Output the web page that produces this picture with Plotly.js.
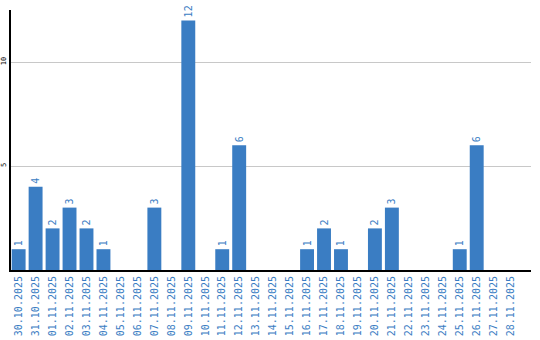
<!DOCTYPE html>
<html><head><meta charset="utf-8">
<script src="https://cdn.plot.ly/plotly-3.0.1.min.js"></script>
<style>html,body{margin:0;padding:0;background:#fff}#c{width:540px;height:340px}</style>
</head><body><div id="c"></div>
<script>
const dates = ["30.10.2025","31.10.2025","01.11.2025","02.11.2025","03.11.2025","04.11.2025","05.11.2025","06.11.2025","07.11.2025","08.11.2025","09.11.2025","10.11.2025","11.11.2025","12.11.2025","13.11.2025","14.11.2025","15.11.2025","16.11.2025","17.11.2025","18.11.2025","19.11.2025","20.11.2025","21.11.2025","22.11.2025","23.11.2025","24.11.2025","25.11.2025","26.11.2025","27.11.2025","28.11.2025"];
const counts = [1,4,2,3,2,1,0,0,3,0,12,0,1,6,0,0,0,1,2,1,0,2,3,0,0,0,1,6,0,0];
const yTicks = [5,10];

const labels = counts.map(v => v > 0 ? String(v) : "");
const blue = "#3a7dc3";
Plotly.newPlot("c", [{
  type: "bar",
  x: dates,
  y: counts,
  marker: {color: blue},
  text: labels,
  textposition: "outside",
  textangle: -90,
  cliponaxis: false,
  textfont: {family: "DejaVu Sans Mono", size: 10, color: blue},
  hoverinfo: "none"
}], {
  width: 540, height: 340,
  margin: {l: 11, r: 9, t: 10, b: 70, pad: 0},
  paper_bgcolor: "#fff", plot_bgcolor: "#fff",
  showlegend: false,
  bargap: 0.18,
  xaxis: {
    type: "category",
    range: [-0.45, 30.2],
    tickangle: -90,
    tickfont: {family: "DejaVu Sans Mono", size: 10, color: blue},
    showline: true, linecolor: "#000", linewidth: 2,
    showgrid: false, ticks: "", zeroline: false,
    automargin: false
  },
  yaxis: {
    range: [0, 12.5],
    tickvals: yTicks,
    ticktext: yTicks.map(String),
    tickangle: -90,
    tickfont: {family: "DejaVu Sans Mono", size: 7, color: "#000"},
    showline: true, linecolor: "#000", linewidth: 2,
    showgrid: true, gridcolor: "#c8c8c8", gridwidth: 1,
    zeroline: false, ticks: "", ticklabelstandoff: 0,
    automargin: false
  }
}, {staticPlot: true, displayModeBar: false});
</script></body></html>
